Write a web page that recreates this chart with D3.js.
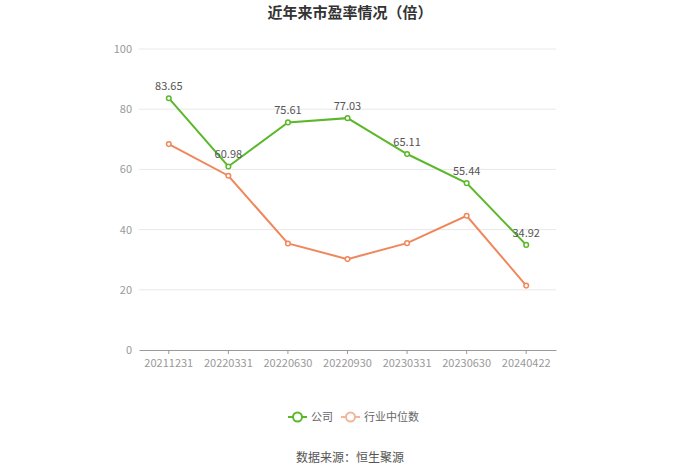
<!DOCTYPE html>
<html><head><meta charset="utf-8">
<script src="https://cdn.jsdelivr.net/npm/d3@7"></script>
<style>body{margin:0;background:#fff;font-family:"Noto Sans CJK SC","Noto Sans",sans-serif;}</style>
</head><body><svg id="c" width="700" height="473"></svg>
<script>
const categories = ["20211231","20220331","20220630","20220930","20230331","20230630","20240422"];
const companyPE = [83.65,60.98,75.61,77.03,65.11,55.44,34.92];
const industryPE = [68.4,57.9,35.4,30.2,35.5,44.6,21.4];
const yTicks = [0,20,40,60,80,100];
const seriesNames = ["公司","行业中位数"];

const svg = d3.select("#c");
const font = '"Noto Sans CJK SC","Noto Sans",sans-serif';
const green = "#5bb82a", orange = "#f0875c";
const x = d3.scaleBand().domain(categories).range([139,556]);
const y = d3.scaleLinear().domain([0,100]).range([350,49]);
const cx = d => x(d) + x.bandwidth()/2;

svg.append("text").attr("x",350).attr("y",18).attr("text-anchor","middle")
  .attr("font-family",font).attr("font-size",15).attr("font-weight","bold").attr("fill","#333")
  .text("近年来市盈率情况（倍）");

// grid
svg.append("g").selectAll("line").data(yTicks.filter(t=>t>0)).join("line")
  .attr("x1",139).attr("x2",556).attr("y1",d=>y(d)).attr("y2",d=>y(d))
  .attr("stroke","#e8e8e8").attr("stroke-width",1);
// y labels
svg.append("g").selectAll("text").data(yTicks).join("text")
  .attr("x",132).attr("y",d=>y(d)+4).attr("text-anchor","end")
  .attr("font-family",font).attr("font-size",11).attr("fill","#999").text(d=>d);
// x axis
const xa = svg.append("g").attr("transform","translate(0,350)")
  .call(d3.axisBottom(x).tickSize(4).tickSizeOuter(0));
xa.select(".domain").attr("stroke","#999");
xa.selectAll(".tick line").attr("stroke","#999");
xa.selectAll(".tick text").attr("font-family",font).attr("font-size",11).attr("fill","#999").attr("dy","0.9em");

function drawSeries(vals,color,labels){
  const line = d3.line().x((d,i)=>cx(categories[i])).y(d=>y(d));
  svg.append("path").datum(vals).attr("d",line).attr("fill","none").attr("stroke",color).attr("stroke-width",2);
  svg.append("g").selectAll("circle").data(vals).join("circle")
    .attr("cx",(d,i)=>cx(categories[i])).attr("cy",d=>y(d)).attr("r",2.3)
    .attr("fill","#fff").attr("stroke",color).attr("stroke-width",1.5);
  if(labels){
    svg.append("g").selectAll("text").data(vals).join("text")
      .attr("x",(d,i)=>cx(categories[i])).attr("y",d=>y(d)-8).attr("text-anchor","middle")
      .attr("font-family",font).attr("font-size",11).attr("fill","#555").text(d=>d.toFixed(2));
  }
}
drawSeries(industryPE,orange,false);
drawSeries(companyPE,green,true);

// legend
const leg = [{name:seriesNames[0],color:green,x:288},{name:seriesNames[1],color:"#f5b59b",x:341}];
leg.forEach(l=>{
  svg.append("line").attr("x1",l.x).attr("x2",l.x+19).attr("y1",417).attr("y2",417).attr("stroke",l.color).attr("stroke-width",2);
  svg.append("circle").attr("cx",l.x+9.5).attr("cy",417).attr("r",4.5).attr("fill","#fff").attr("stroke",l.color).attr("stroke-width",2);
  svg.append("text").attr("x",l.x+23).attr("y",421).attr("font-family",font).attr("font-size",11).attr("fill","#666").text(l.name);
});

svg.append("text").attr("x",350).attr("y",462).attr("text-anchor","middle")
  .attr("font-family",font).attr("font-size",12).attr("fill","#555").text("数据来源：恒生聚源");
</script></body></html>
